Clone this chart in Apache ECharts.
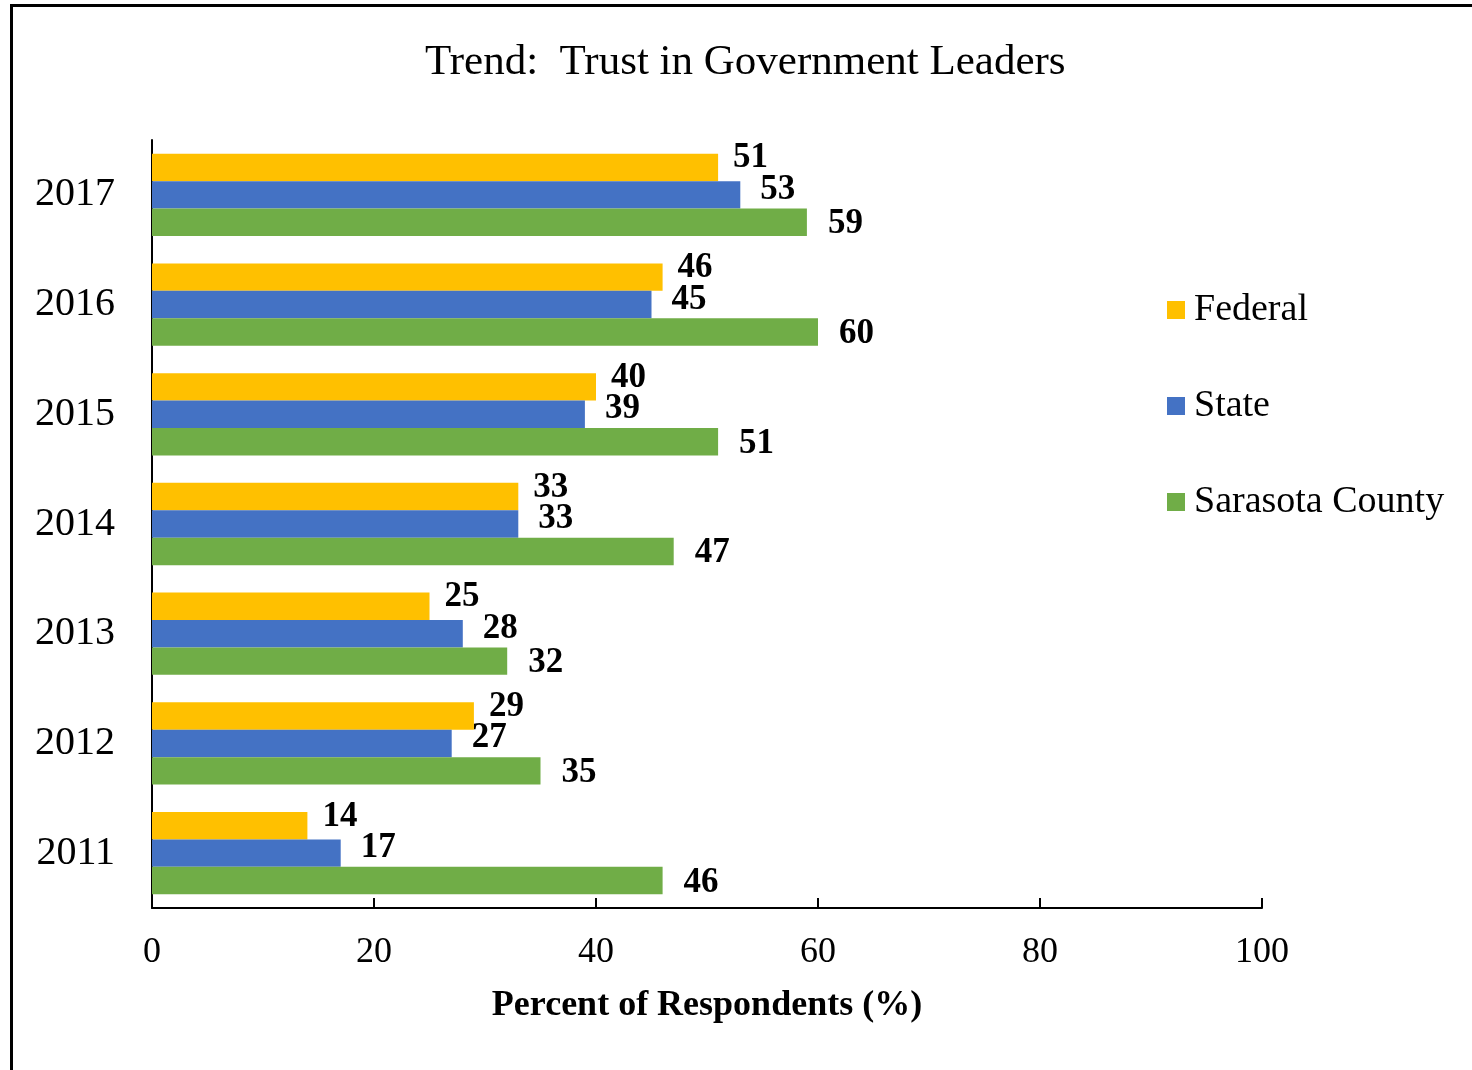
<!DOCTYPE html>
<html lang="en">
<head>
    <meta charset="UTF-8">
    <title>Trend: Trust in Government Leaders</title>
    <script src="https://cdn.jsdelivr.net/npm/echarts@6/dist/echarts.min.js"></script>
    <style>
        html, body { margin: 0; padding: 0; background: #fff; }
    </style>
</head>
<body>
<div id="main" style="width: 1472px;height: 1070px;"></div>
<script>
    // years, bottom to top
    var years = ['2011', '2012', '2013', '2014', '2015', '2016', '2017'];
    var federal = [14, 29, 25, 33, 40, 46, 51];
    var state = [17, 27, 28, 33, 39, 45, 53];
    var sarasota = [46, 35, 32, 47, 51, 60, 59];
    var xTicks = [0, 20, 40, 60, 80, 100];

    var serif = 'Liberation Serif';

    function barSeries(name, values, color, dist, dy) {
        return {
            name: name,
            type: 'bar',
            data: values,
            barGap: 0,
            barCategoryGap: '25%',
            itemStyle: { color: color },
            label: {
                show: true,
                position: 'right',
                distance: dist,
                offset: [0, dy],
                color: '#000',
                fontFamily: serif,
                fontWeight: 'bold',
                fontSize: 35
            }
        };
    }

    var myChart = echarts.init(document.getElementById('main'));
    var option = {
        backgroundColor: '#fff',
        animation: false,
        title: {
            text: 'Trend:  Trust in Government Leaders',
            left: 420,
            top: 36,
            textStyle: { fontFamily: serif, fontWeight: 'normal', fontSize: 43, color: '#000' }
        },
        legend: {
            orient: 'vertical',
            left: 1162,
            top: 286,
            itemWidth: 18,
            itemHeight: 18,
            itemGap: 58,
            icon: 'rect',
            data: ['Federal', 'State', 'Sarasota County'],
            textStyle: { fontFamily: serif, fontSize: 38, color: '#000', padding: [0, 0, 0, 4] }
        },
        grid: { left: 152, right: 210, top: 140, bottom: 162 },
        xAxis: {
            type: 'value',
            min: 0,
            max: 100,
            interval: 20,
            name: 'Percent of Respondents (%)',
            nameLocation: 'middle',
            nameGap: 80,
            nameTextStyle: { fontFamily: serif, fontWeight: 'bold', fontSize: 36, color: '#000' },
            axisLine: { show: true, lineStyle: { color: '#000', width: 2 } },
            axisTick: { show: true, inside: true, length: 10, lineStyle: { color: '#000', width: 2 } },
            splitLine: { show: false },
            axisLabel: {
                margin: 27,
                fontFamily: serif,
                fontSize: 36,
                color: '#000',
                formatter: function (v) { return xTicks.indexOf(v) >= 0 ? String(v) : ''; }
            }
        },
        yAxis: {
            type: 'category',
            data: years,
            axisLine: { show: true, lineStyle: { color: '#000', width: 2 } },
            axisTick: { show: false },
            axisLabel: { margin: 37, fontFamily: serif, fontSize: 40, color: '#000' }
        },
        // first series sits at the top of each band
        series: [
            barSeries('Federal', federal, '#FFC000', 15, -9),
            barSeries('State', state, '#4472C4', 20, -5),
            barSeries('Sarasota County', sarasota, '#70AD47', 21, 2)
        ],
        graphic: [{
            type: 'rect',
            shape: { x: 11.5, y: 5.5, width: 1600, height: 1200 },
            style: { fill: 'none', stroke: '#000', lineWidth: 3 },
            silent: true
        }]
    };
    myChart.setOption(option);
</script>
</body>
</html>
